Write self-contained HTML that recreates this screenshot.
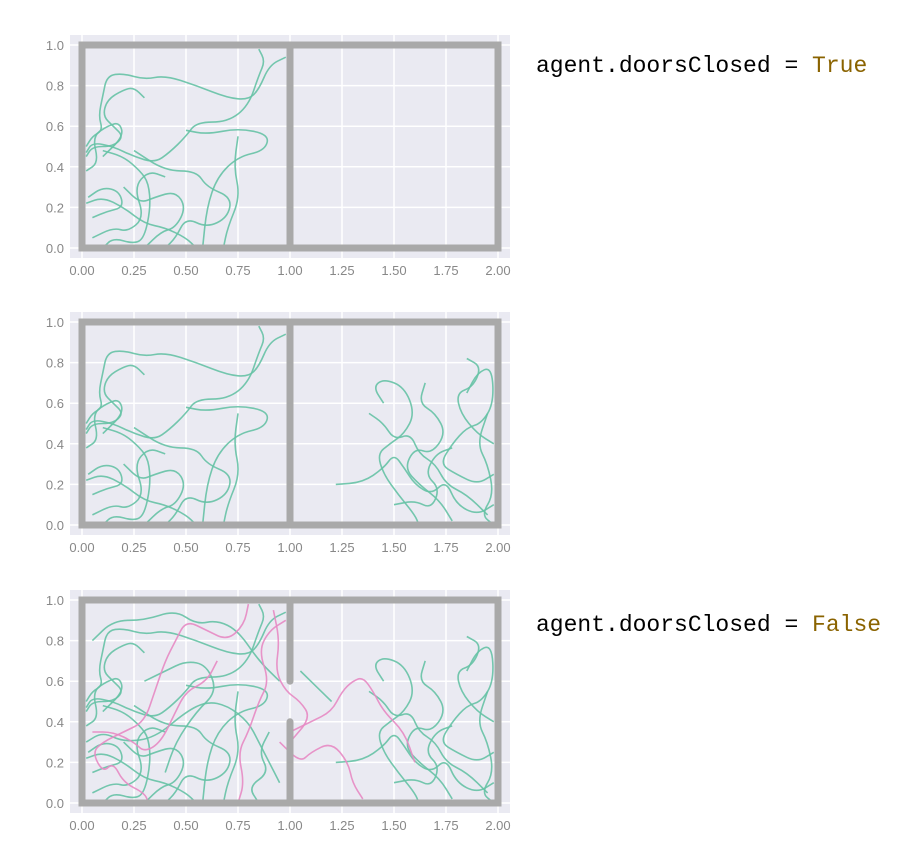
<!DOCTYPE html>
<html><head><meta charset="utf-8"><style>
body{margin:0;background:#fff;width:899px;height:839px;overflow:hidden}
svg text{font-family:"Liberation Sans",sans-serif}
.code{font-family:"Liberation Mono",monospace;font-size:23px}
</style></head><body>
<svg id="s" width="899" height="839">
<text class="code" x="536" y="72">agent.doorsClosed = <tspan fill="#8a6300">True</tspan></text>
<text class="code" x="536" y="631">agent.doorsClosed = <tspan fill="#8a6300">False</tspan></text>
</svg>
<script>
const xTicks=[0,0.25,0.5,0.75,1,1.25,1.5,1.75,2];
const yTicks=[0,0.2,0.4,0.6,0.8,1];
const xTickLabels=["0.00","0.25","0.50","0.75","1.00","1.25","1.50","1.75","2.00"];
const yTickLabels=["0.0","0.2","0.4","0.6","0.8","1.0"];
const leftPaths=[
[[0.3,0.74],[0.25,0.79],[0.2,0.78],[0.12,0.73],[0.1,0.65],[0.15,0.6],[0.2,0.55],[0.15,0.5],[0.05,0.5],[0.02,0.45]],
[[0.98,0.94],[0.9,0.9],[0.85,0.78],[0.8,0.73],[0.7,0.74],[0.55,0.8],[0.4,0.85],[0.3,0.83],[0.2,0.86],[0.12,0.85],[0.1,0.75],[0.08,0.65],[0.1,0.58],[0.05,0.55],[0.02,0.5]],
[[0.85,0.98],[0.88,0.92],[0.85,0.85],[0.8,0.7],[0.7,0.62],[0.55,0.62],[0.5,0.55],[0.42,0.47],[0.35,0.42],[0.25,0.45],[0.15,0.5],[0.05,0.52],[0.02,0.47]],
[[0.5,0.58],[0.6,0.56],[0.75,0.59],[0.9,0.56],[0.88,0.48],[0.75,0.45],[0.65,0.35],[0.6,0.2],[0.58,0.0]],
[[0.1,0.48],[0.2,0.45],[0.28,0.38],[0.32,0.32],[0.33,0.2],[0.3,0.05],[0.25,0.02],[0.15,0.05],[0.1,0.0]],
[[0.02,0.22],[0.1,0.25],[0.2,0.2],[0.3,0.12],[0.4,0.1],[0.5,0.05],[0.55,0.0]],
[[0.75,0.55],[0.73,0.4],[0.76,0.25],[0.7,0.1],[0.68,0.0]],
[[0.2,0.3],[0.28,0.22],[0.35,0.25],[0.45,0.28],[0.5,0.2],[0.45,0.1],[0.38,0.08],[0.3,0.0]],
[[0.05,0.15],[0.12,0.18],[0.2,0.2],[0.18,0.28],[0.1,0.3],[0.03,0.25]],
[[0.25,0.48],[0.4,0.38],[0.55,0.38],[0.6,0.3],[0.72,0.25],[0.7,0.15],[0.6,0.1],[0.5,0.15],[0.45,0.05],[0.4,0.0]],
[[0.05,0.05],[0.15,0.1],[0.22,0.08],[0.3,0.15],[0.25,0.3],[0.32,0.38],[0.4,0.35]],
[[0.02,0.38],[0.08,0.42],[0.05,0.55],[0.12,0.6],[0.18,0.62],[0.2,0.55],[0.1,0.45]]
];
const rightPaths=[
[[1.22,0.2],[1.35,0.21],[1.45,0.28],[1.5,0.35],[1.55,0.28],[1.6,0.2],[1.68,0.15],[1.75,0.22],[1.8,0.1],[1.9,0.05],[1.98,0.1]],
[[1.45,0.6],[1.4,0.68],[1.45,0.72],[1.55,0.68],[1.6,0.55],[1.55,0.45],[1.48,0.4],[1.42,0.35],[1.45,0.25],[1.52,0.15],[1.6,0.05],[1.62,0.0]],
[[1.85,0.65],[1.9,0.75],[1.97,0.78],[1.98,0.6],[1.92,0.5],[1.85,0.48],[1.78,0.4],[1.72,0.3],[1.8,0.25],[1.9,0.2],[1.98,0.25]],
[[1.65,0.7],[1.62,0.6],[1.7,0.55],[1.75,0.45],[1.68,0.35],[1.6,0.38],[1.55,0.28],[1.62,0.2],[1.72,0.12],[1.78,0.02]],
[[1.38,0.55],[1.45,0.5],[1.5,0.42],[1.58,0.45],[1.62,0.35],[1.7,0.3],[1.75,0.2],[1.85,0.15],[1.95,0.05]],
[[1.95,0.55],[1.9,0.4],[1.95,0.3],[1.98,0.15],[1.92,0.05],[1.98,0.0]],
[[1.85,0.82],[1.92,0.78],[1.88,0.68],[1.8,0.65],[1.82,0.55],[1.9,0.45],[1.98,0.4]],
[[1.5,0.1],[1.6,0.12],[1.68,0.08],[1.72,0.18],[1.65,0.25],[1.7,0.35],[1.78,0.38]]
];
const extraLeft=[
[[0.02,0.3],[0.1,0.35],[0.2,0.3],[0.35,0.32],[0.5,0.45],[0.6,0.5],[0.7,0.48],[0.8,0.4],[0.85,0.3],[0.9,0.2],[0.95,0.1]],
[[0.05,0.8],[0.15,0.9],[0.3,0.9],[0.45,0.95],[0.55,0.88],[0.65,0.9],[0.75,0.85],[0.85,0.7],[0.95,0.6]],
[[0.3,0.6],[0.4,0.65],[0.5,0.7],[0.6,0.68],[0.65,0.55],[0.55,0.45],[0.45,0.3],[0.4,0.15]],
[[0.9,0.35],[0.85,0.25],[0.9,0.15],[0.8,0.08],[0.85,0.0]],
[[1.05,0.65],[1.15,0.55],[1.2,0.5]]
];
const pinkPaths=[
[[0.8,0.98],[0.78,0.88],[0.7,0.8],[0.6,0.85],[0.5,0.9],[0.45,0.8],[0.4,0.7],[0.35,0.55],[0.3,0.4],[0.2,0.35],[0.1,0.3],[0.05,0.25],[0.1,0.15],[0.15,0.2],[0.2,0.1],[0.3,0.05],[0.32,0.0]],
[[0.98,0.9],[0.9,0.85],[0.85,0.75],[0.9,0.6],[0.85,0.5],[0.8,0.35],[0.75,0.25],[0.78,0.1],[0.75,0.0]],
[[1.0,0.35],[1.1,0.4],[1.2,0.45],[1.25,0.55],[1.3,0.6],[1.35,0.62],[1.4,0.55],[1.45,0.45],[1.55,0.35],[1.6,0.2]],
[[0.95,0.3],[1.05,0.2],[1.1,0.25],[1.2,0.3],[1.28,0.2],[1.3,0.1],[1.35,0.02]],
[[0.65,0.7],[0.6,0.6],[0.5,0.55],[0.45,0.45],[0.38,0.3],[0.3,0.25],[0.25,0.3],[0.15,0.35],[0.05,0.35]],
[[0.92,0.95],[0.95,0.8],[0.93,0.65],[0.98,0.55],[1.05,0.5],[1.1,0.42],[1.0,0.3]]
];
const panels=[{top:35,left:[leftPaths],right:[],pink:[],doors:false,name:'panel-doors-closed'},
{top:312,left:[leftPaths],right:[rightPaths],pink:[],doors:false,name:'panel-two-rooms'},
{top:590,left:[leftPaths,extraLeft],right:[rightPaths],pink:[pinkPaths],doors:true,name:'panel-doors-open'}];
const NS='http://www.w3.org/2000/svg',svg=document.getElementById('s');
function mk(t,a,p){const e=document.createElementNS(NS,t);for(const k in a)e.setAttribute(k,a[k]);(p||svg).appendChild(e);return e;}
const f=v=>v.toFixed(1);
function smooth(pts){let d='M'+f(pts[0][0])+','+f(pts[0][1]);for(let i=1;i<pts.length;i++){const p0=pts[i-1],p1=pts[i];const mx=(p0[0]+p1[0])/2,my=(p0[1]+p1[1])/2;d+=' Q'+f(p0[0])+','+f(p0[1])+' '+f(mx)+','+f(my);}const l=pts[pts.length-1];return d+' L'+f(l[0])+','+f(l[1]);}
panels.forEach((P,pi)=>{
 const x=v=>82+v*208, y=v=>P.top+213-v*203;
 const g=mk('g',{});
 
 
 const bg=mk('rect',{x:70,y:P.top,width:440,height:223,fill:'#eaeaf2'},g);
 
 
 xTicks.forEach((t,i)=>{mk('line',{x1:x(t),x2:x(t),y1:P.top,y2:P.top+223,stroke:'#fff','stroke-width':1.5},g);
  const tx=mk('text',{x:x(t),y:P.top+240,'text-anchor':'middle','font-size':13,fill:'#888'},g);tx.textContent=xTickLabels[i];
  
  });
 yTicks.forEach((t,i)=>{mk('line',{x1:70,x2:510,y1:y(t),y2:y(t),stroke:'#fff','stroke-width':1.5},g);
  const tx=mk('text',{x:64,y:y(t)+5,'text-anchor':'end','font-size':13,fill:'#888'},g);tx.textContent=yTickLabels[i];
  
  });
 const draw=(sets,col,nm)=>sets.forEach(set=>set.forEach(p=>{const e=mk('path',{d:smooth(p.map(q=>[x(q[0]),y(q[1])])),fill:'none',stroke:col,'stroke-width':1.6,'stroke-linejoin':'round',opacity:0.9},g);
  
  }));
 draw(P.left,'#66c2a5','agent-trajectory');draw(P.right,'#66c2a5','agent-trajectory');draw(P.pink,'#e78ac3','agent-trajectory-open');
 const ws={stroke:'#a9a9a9','stroke-width':7,'stroke-linecap':'round',fill:'none'};
 const w=mk('rect',Object.assign({x:x(0),y:y(1),width:x(2)-x(0),height:y(0)-y(1)},ws),g);
 
 
 const segs=P.doors?[[0,0.4],[0.6,1]]:[[0,1]];
 segs.forEach(s=>{const l=mk('line',Object.assign({x1:x(1),x2:x(1),y1:y(s[0]),y2:y(s[1])},ws),g);
  
  });
});
</script>
</body></html>
